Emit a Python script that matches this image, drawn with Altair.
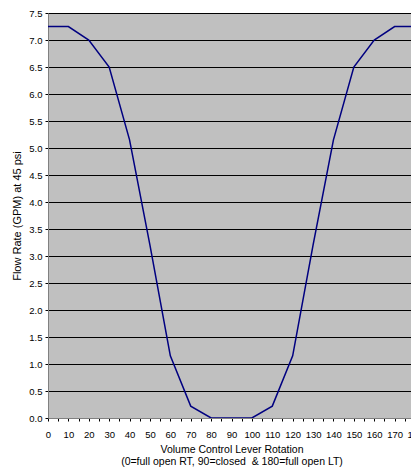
import altair as alt
import pandas as pd

rotation = [0, 10, 20, 30, 40, 50, 60, 70, 80, 90, 100, 110, 120, 130, 140, 150, 160, 170, 180]
flow = [7.25, 7.25, 7.0, 6.5, 5.15, 3.2, 1.15, 0.22, 0.0, 0.0, 0.0, 0.22, 1.15, 3.2, 5.15, 6.5, 7.0, 7.25, 7.25]
x_ticks = list(range(0, 185, 5))
y_ticks = [i * 0.5 for i in range(16)]

df = pd.DataFrame({"rot": rotation, "flow": flow})

font = "Liberation Sans"

line = alt.Chart(df).mark_line(color="#000080", strokeWidth=1.5, clip=True).encode(
    x=alt.X("rot:Q",
            scale=alt.Scale(domain=[0, 180], nice=False, zero=False),
            axis=alt.Axis(values=x_ticks,
                          labelExpr="datum.value % 10 == 0 ? datum.label : ''",
                          title=["Volume Control Lever Rotation",
                                 "(0=full open RT, 90=closed\u00a0 & 180=full open LT)"],
                          grid=False, tickSize=3, tickColor="#000000",
                          domainColor="#808080", labelPadding=8,
                          labelOverlap=False, labelFlush=False,
                          titlePadding=6, titleLineHeight=11.5,
                          labelFontSize=9.5, titleFontSize=10.5,
                          labelFont=font, titleFont=font,
                          titleFontWeight="normal", labelColor="#000000",
                          titleColor="#000000")),
    y=alt.Y("flow:Q",
            scale=alt.Scale(domain=[0, 7.5], nice=False),
            axis=alt.Axis(values=y_ticks, format=".1f",
                          title="Flow Rate (GPM) at 45 psi",
                          grid=True, gridColor="#000000", gridWidth=1, gridOpacity=1,
                          tickSize=3, tickColor="#000000",
                          domainColor="#808080", labelPadding=3,
                          labelOverlap=False, labelFlush=False,
                          titlePadding=6,
                          labelFontSize=9.5, titleFontSize=11,
                          labelFont=font, titleFont=font,
                          titleFontWeight="normal", labelColor="#000000",
                          titleColor="#000000")),
)

chart = line.properties(
    width=367, height=405,
    autosize=alt.AutoSizeParams(type="none"),
    padding={"left": 40, "top": 5, "right": -4, "bottom": 49},
    background="#ffffff",
).configure_view(fill="#C0C0C0", stroke="#808080", strokeWidth=1)

chart.save("out.html", embed_options={"renderer": "svg", "actions": False})
